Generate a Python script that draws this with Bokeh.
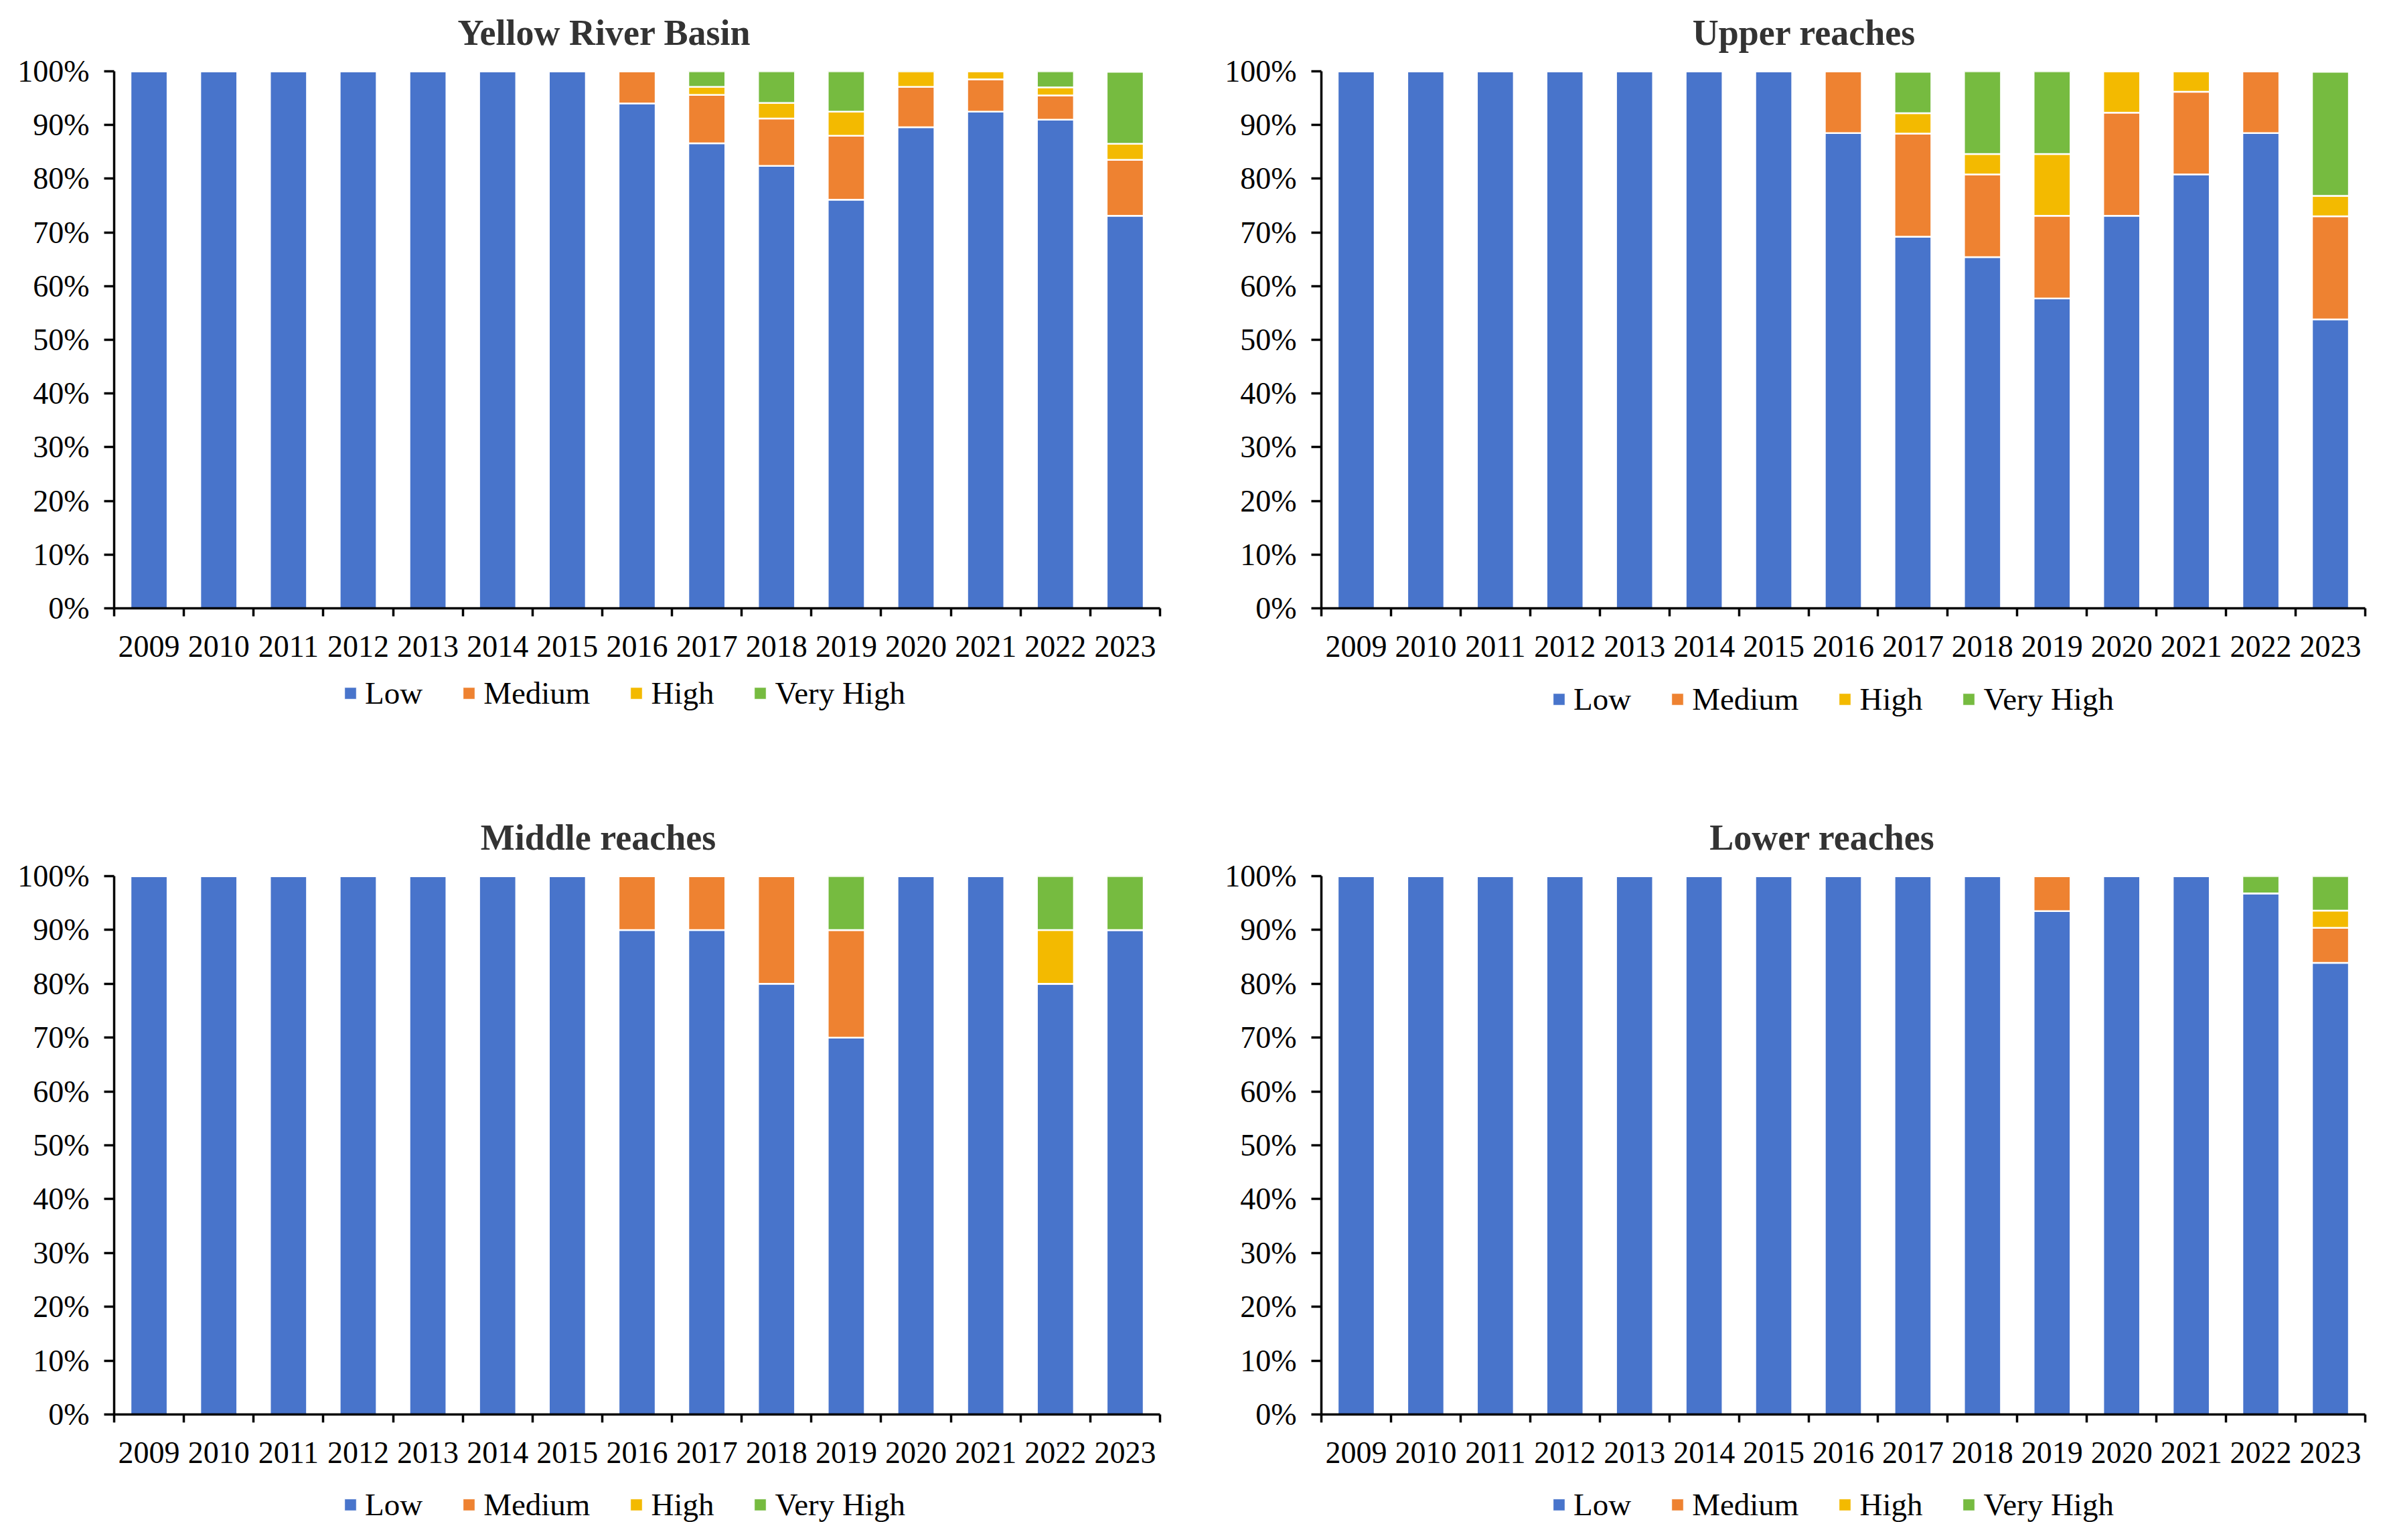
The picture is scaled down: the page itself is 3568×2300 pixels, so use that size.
from bokeh.plotting import figure
from bokeh.models import (Range1d, FixedTicker, PrintfTickFormatter, CustomJSTickFormatter,
                          Legend, LegendItem, Label, ColumnDataSource)
from bokeh.layouts import column, row
from bokeh.core.properties import value
from bokeh.embed import file_html
from bokeh.resources import INLINE

years = ["2009", "2010", "2011", "2012", "2013", "2014", "2015", "2016",
         "2017", "2018", "2019", "2020", "2021", "2022", "2023"]
levels = ["Low", "Medium", "High", "Very High"]
colors = ["#4874CB", "#EE8231", "#F3BA00", "#76BB40"]
y_ticks = [0, 10, 20, 30, 40, 50, 60, 70, 80, 90, 100]

# Yellow River Basin (%)
basin_low = [100, 100, 100, 100, 100, 100, 100, 94.0, 86.6, 82.4, 76.1, 89.6, 92.5, 91.0, 73.1]
basin_med = [0, 0, 0, 0, 0, 0, 0, 6.0, 9.0, 8.8, 11.9, 7.5, 6.0, 4.5, 10.4]
basin_high = [0, 0, 0, 0, 0, 0, 0, 0, 1.5, 2.9, 4.5, 3.0, 1.5, 1.5, 3.0]
basin_vh = [0, 0, 0, 0, 0, 0, 0, 0, 3.0, 5.9, 7.5, 0, 0, 3.0, 13.4]

# Upper reaches (%)
upper_low = [100, 100, 100, 100, 100, 100, 100, 88.5, 69.2, 65.4, 57.7, 73.1, 80.8, 88.5, 53.8]
upper_med = [0, 0, 0, 0, 0, 0, 0, 11.5, 19.2, 15.4, 15.4, 19.2, 15.4, 11.5, 19.2]
upper_high = [0, 0, 0, 0, 0, 0, 0, 0, 3.8, 3.8, 11.5, 7.7, 3.8, 0, 3.8]
upper_vh = [0, 0, 0, 0, 0, 0, 0, 0, 7.7, 15.4, 15.4, 0, 0, 0, 23.1]

# Middle reaches (%)
middle_low = [100, 100, 100, 100, 100, 100, 100, 90, 90, 80, 70, 100, 100, 80, 90]
middle_med = [0, 0, 0, 0, 0, 0, 0, 10, 10, 20, 20, 0, 0, 0, 0]
middle_high = [0, 0, 0, 0, 0, 0, 0, 0, 0, 0, 0, 0, 0, 10, 0]
middle_vh = [0, 0, 0, 0, 0, 0, 0, 0, 0, 0, 10, 0, 0, 10, 10]

# Lower reaches (%)
lower_low = [100, 100, 100, 100, 100, 100, 100, 100, 100, 100, 93.5, 100, 100, 96.8, 83.9]
lower_med = [0, 0, 0, 0, 0, 0, 0, 0, 0, 0, 6.5, 0, 0, 0, 6.5]
lower_high = [0, 0, 0, 0, 0, 0, 0, 0, 0, 0, 0, 0, 0, 0, 3.2]
lower_vh = [0, 0, 0, 0, 0, 0, 0, 0, 0, 0, 0, 0, 0, 3.2, 6.4]

FONT = "Liberation Serif"


def blank(width, height):
    p = figure(width=width, height=height, x_range=Range1d(0, 1), y_range=Range1d(0, 1),
               output_backend="svg", toolbar_location=None, title=None,
               x_axis_location=None, y_axis_location=None, min_border=0)
    p.outline_line_color = None
    p.grid.visible = False
    p.background_fill_color = "white"
    p.border_fill_color = "white"
    return p


def make_title(text, width, height, tx, ty):
    p = blank(width, height)
    p.add_layout(Label(x=tx, y=ty, x_units="screen", y_units="screen", text=text,
                       text_align="center", text_baseline="middle", text_font=FONT,
                       text_font_style="bold", text_font_size="54px",
                       text_color="#333333"))
    return p


def make_panel(low, med, high, vh, width, height, left, right, top, bottom):
    p = figure(width=width, height=height, x_range=Range1d(0, len(years)),
               y_range=Range1d(0, 100), output_backend="svg", toolbar_location=None,
               min_border_left=left, min_border_right=right,
               min_border_top=top, min_border_bottom=bottom)
    p.outline_line_color = None
    p.xgrid.visible = False
    p.ygrid.visible = False
    p.background_fill_color = "white"
    p.border_fill_color = "white"

    src = ColumnDataSource(dict(
        x=[i + 0.5 for i in range(len(years))],
        Low=low, Medium=med, High=high, **{"Very High": vh}))
    p.vbar_stack(levels, x="x", width=0.53, color=colors, line_color="white",
                 line_width=2.5, source=src)

    xa = p.xaxis[0]
    xa.ticker = FixedTicker(ticks=[i + 0.5 for i in range(len(years))],
                            minor_ticks=list(range(len(years) + 1)))
    xa.formatter = CustomJSTickFormatter(args=dict(years=years),
                                         code="return years[Math.floor(tick)];")
    xa.major_tick_line_color = None
    xa.major_tick_out = 0
    xa.major_tick_in = 0
    xa.minor_tick_out = 12
    xa.minor_tick_in = 0
    xa.minor_tick_line_width = 3.5
    xa.minor_tick_line_color = "black"
    xa.major_label_standoff = 29

    ya = p.yaxis[0]
    ya.ticker = FixedTicker(ticks=y_ticks, minor_ticks=[])
    ya.formatter = PrintfTickFormatter(format="%d%%")
    ya.major_tick_out = 15
    ya.major_tick_in = 0
    ya.major_tick_line_width = 3.5
    ya.major_tick_line_color = "black"
    ya.minor_tick_line_color = None
    ya.major_label_standoff = 22

    for ax in (xa, ya):
        ax.axis_line_width = 3.5
        ax.axis_line_color = "black"
        ax.major_label_text_font = FONT
        ax.major_label_text_font_size = "46px"
        ax.major_label_text_color = "black"
    return p


def make_legend(width, height, lx, ly):
    p = blank(width, height)
    # swatch renderers kept outside the visible range; they only feed the legend glyphs
    rs = [p.vbar(x=[-5], bottom=[-6], top=[-5], width=0.5, fill_color=c,
                 line_color="white", line_width=1) for c in colors]
    legend = Legend(items=[LegendItem(label=value(lv), renderers=[r]) for lv, r in zip(levels, rs)],
                    orientation="horizontal", location=(lx, ly),
                    glyph_width=22, glyph_height=22, label_standoff=11, spacing=58,
                    padding=0, margin=0, border_line_color=None,
                    background_fill_alpha=0, label_text_font=FONT,
                    label_text_font_size="47px", label_height=47,
                    label_text_color="black")
    p.add_layout(legend, "center")
    return p


t1 = make_title("Yellow River Basin", 1788, 80, 902, 32)
t2 = make_title("Upper reaches", 1772, 80, 906, 32)
p1 = make_panel(basin_low, basin_med, basin_high, basin_vh, 1788, 928, 170, 56, 26, 100)
p2 = make_panel(upper_low, upper_med, upper_high, upper_vh, 1772, 928, 185, 28, 26, 100)
l1 = make_legend(1788, 76, 512, 22)
l2 = make_legend(1772, 76, 529, 13)

t3 = make_title("Middle reaches", 1788, 196, 893, 30)
t4 = make_title("Lower reaches", 1772, 196, 933, 30)
p3 = make_panel(middle_low, middle_med, middle_high, middle_vh, 1788, 932, 170, 56, 28, 100)
p4 = make_panel(lower_low, lower_med, lower_high, lower_vh, 1772, 932, 185, 28, 28, 100)
l3 = make_legend(1788, 80, 512, 18)
l4 = make_legend(1772, 80, 529, 18)

layout = column(row(t1, t2), row(p1, p2), row(l1, l2),
                row(t3, t4), row(p3, p4), row(l3, l4))
open("out.html", "w").write(file_html(layout, INLINE))
